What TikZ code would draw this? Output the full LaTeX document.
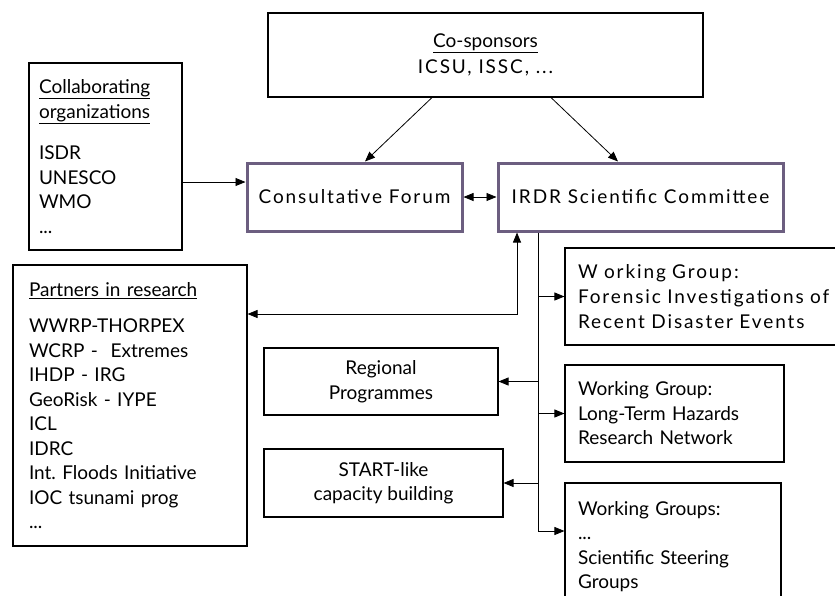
\documentclass[tikz,border=0pt]{standalone}
\usepackage{fontspec}
\setmainfont{Lato}
\newfontfamily\widefont[LetterSpace=10]{Lato}
\usepackage{xcolor}
\usepackage{tikz}
\usetikzlibrary{positioning,arrows.meta}
\definecolor{irdrpurple}{RGB}{108,94,128}

\begin{document}
\begin{tikzpicture}[x=1pt, y=-1pt, line width=0.8pt,
    >={Triangle[length=10pt,width=8pt]},
    box/.style={draw, line width=1.1pt, inner sep=0pt, font=\fontsize{19}{24.5}\selectfont},
    listbox/.style={box, align=left},
    mainbox/.style={draw=irdrpurple, line width=3pt, inner sep=0pt, minimum height=68pt,
        font=\widefont\fontsize{19}{24.5}\selectfont}]
    \useasboundingbox (0,0) rectangle (835,595);
    \clip (0,0) rectangle (835,595);

    % Sponsors and collaborators
    \node[box, minimum width=435pt, minimum height=84pt, align=center] (cosp) at (485.5,55)
        {\underline{Co-sponsors}\\[1pt]{\widefont ICSU, ISSC, ...}};
    \node[listbox, minimum height=187pt, text width=133pt, inner xsep=10pt] (collab) at (105.5,156.5)
        {\underline{Collaborating}\\\underline{organizations}\\[17pt]ISDR\\UNESCO\\WMO\\...};

    % Forum and committee
    \node[mainbox, minimum width=215pt] (cf) at (354.5,197) {Consultative Forum};
    \node[mainbox, minimum width=285pt] (irdr) at (640.5,197) {IRDR Scientific Committee};

    % Partners
    \node[listbox, minimum height=281pt, text width=202pt, inner xsep=16pt] (partners) at (130,405.5)
        {\underline{Partners in research}\\[12pt]WWRP-THORPEX\\WCRP -~ Extremes\\IHDP - IRG\\GeoRisk - IYPE\\ICL\\IDRC\\Int.\ Floods Initiative\\IOC tsunami prog\\...};

    % Programmes
    \node[box, minimum width=234pt, minimum height=67pt, align=center] (reg) at (381,381.5)
        {Regional\\Programmes};
    \node[box, minimum width=239pt, minimum height=68pt, align=center] (start) at (383.5,483)
        {START-like\\capacity building};

    % Working groups
    \node[listbox, minimum height=97pt, text width=264pt, inner xsep=13pt,
        font=\widefont\fontsize{19}{25}\selectfont] (wg1) at (710,296.5)
        {W orking Group:\\Forensic Investigations of\\Recent Disaster Events};
    \node[listbox, minimum height=97pt, text width=193pt, inner xsep=13pt] (wg2) at (674.5,413.5)
        {Working Group:\\Long-Term Hazards\\Research Network};
    \node[listbox, minimum height=127pt, text width=190pt, inner xsep=13pt] (wg3) at (673,546.5)
        {Working Groups:\\...\\Scientific Steering\\Groups};

    % Arrows from the top
    \draw[->] ([xshift=-53.5pt]cosp.south) -- ([xshift=10.5pt]cf.north);
    \draw[->] ([xshift=65.5pt]cosp.south) -- ([xshift=-22.5pt]irdr.north);
    \coordinate (cfin) at ([yshift=15pt]cf.west);
    \draw[->] (collab.east |- cfin) -- (cfin);
    \draw[<->] (cf) -- (irdr);

    % Link to partners
    \coordinate (pup) at ([xshift=-123.5pt]irdr.south);
    \coordinate (pin) at ([yshift=91.5pt]partners.east);
    \draw[<->] (pup) |- (pin);

    % Trunk down to groups and programmes
    \coordinate (trunk) at ([xshift=-102.5pt]irdr.south);
    \coordinate (wg3in) at ([yshift=15.5pt]wg3.west);
    \draw (trunk) -- (trunk |- wg3in);
    \foreach \n in {wg1,wg2,reg,start,wg3in}
        \draw[->] (trunk |- \n) -- (\n);
\end{tikzpicture}
\end{document}
